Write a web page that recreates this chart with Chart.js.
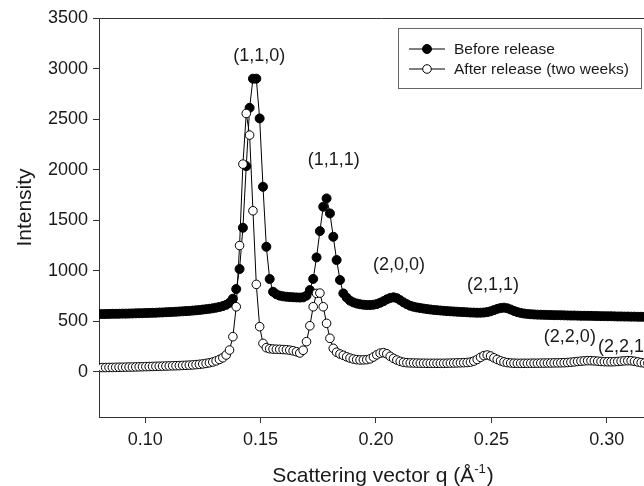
<!DOCTYPE html>
<html>
<head>
<meta charset="utf-8">
<script src="https://cdn.jsdelivr.net/npm/chart.js@4.4.1/dist/chart.umd.min.js"></script>
<style>
  html, body { margin: 0; padding: 0; background: #fff; overflow: hidden; }
  #wrap { width: 644px; height: 486px; overflow: hidden; }
</style>
</head>
<body>
<div id="wrap"><canvas id="chart" width="670" height="486"></canvas></div>
<script>
// scattering vector q (1/Angstrom), one sample per detector step
const q = [
  0.08, 0.08145, 0.0829, 0.08435, 0.0858, 0.08725, 0.0887, 0.09015, 0.0916, 0.09305,
  0.0945, 0.09595, 0.0974, 0.09885, 0.1003, 0.10175, 0.1032, 0.10465, 0.1061, 0.10755,
  0.109, 0.11045, 0.1119, 0.11335, 0.1148, 0.11625, 0.1177, 0.11915, 0.1206, 0.12205,
  0.1235, 0.12495, 0.1264, 0.12785, 0.1293, 0.13075, 0.1322, 0.13365, 0.1351, 0.13655,
  0.138, 0.13945, 0.1409, 0.14235, 0.1438, 0.14525, 0.1467, 0.14815, 0.1496, 0.15105,
  0.1525, 0.15395, 0.1554, 0.15685, 0.1583, 0.15975, 0.1612, 0.16265, 0.1641, 0.16555,
  0.167, 0.16845, 0.1699, 0.17135, 0.1728, 0.17425, 0.1757, 0.17715, 0.1786, 0.18005,
  0.1815, 0.18295, 0.1844, 0.18585, 0.1873, 0.18875, 0.1902, 0.19165, 0.1931, 0.19455,
  0.196, 0.19745, 0.1989, 0.20035, 0.2018, 0.20325, 0.2047, 0.20615, 0.2076, 0.20905,
  0.2105, 0.21195, 0.2134, 0.21485, 0.2163, 0.21775, 0.2192, 0.22065, 0.2221, 0.22355,
  0.225, 0.22645, 0.2279, 0.22935, 0.2308, 0.23225, 0.2337, 0.23515, 0.2366, 0.23805,
  0.2395, 0.24095, 0.2424, 0.24385, 0.2453, 0.24675, 0.2482, 0.24965, 0.2511, 0.25255,
  0.254, 0.25545, 0.2569, 0.25835, 0.2598, 0.26125, 0.2627, 0.26415, 0.2656, 0.26705,
  0.2685, 0.26995, 0.2714, 0.27285, 0.2743, 0.27575, 0.2772, 0.27865, 0.2801, 0.28155,
  0.283, 0.28445, 0.2859, 0.28735, 0.2888, 0.29025, 0.2917, 0.29315, 0.2946, 0.29605,
  0.2975, 0.29895, 0.3004, 0.30185, 0.3033, 0.30475, 0.3062, 0.30765, 0.3091, 0.31055,
  0.312, 0.31345, 0.3149, 0.31635, 0.3178, 0.31925, 0.3207, 0.32215, 0.3236
];

const before = [
  572, 573, 573, 574, 575, 575, 576, 577, 577, 578,
  579, 580, 581, 582, 583, 584, 585, 586, 588, 589,
  591, 592, 594, 596, 598, 600, 602, 604, 607, 610,
  613, 617, 621, 625, 630, 636, 643, 652, 664, 685,
  725, 820, 1018, 1426, 2036, 2612, 2900, 2900, 2507, 1831,
  1238, 919, 793, 768, 755, 748, 744, 741, 739, 737,
  736, 738, 755, 810, 920, 1133, 1393, 1634, 1716, 1568,
  1337, 1107, 909, 777, 735, 705, 688, 677, 670, 665,
  662, 662, 665, 672, 685, 700, 718, 732, 738, 730,
  710, 688, 670, 655, 645, 638, 632, 627, 622, 618,
  614, 611, 608, 605, 602, 600, 598, 596, 594, 592,
  590, 588, 587, 586, 586, 588, 592, 600, 612, 624,
  632, 636, 630, 618, 604, 592, 584, 578, 574, 571,
  569, 567, 566, 565, 564, 563, 562, 562, 561, 560,
  559, 558, 558, 557, 556, 556, 555, 555, 554, 553,
  552, 552, 551, 551, 550, 549, 549, 548, 548, 547,
  547, 546, 546, 545, 545, 544, 544, 543, 543
];

const after = [
  43, 44, 44, 45, 45, 46, 47, 47, 48, 49,
  49, 50, 51, 52, 53, 54, 55, 56, 57, 58,
  59, 60, 61, 62, 63, 65, 66, 68, 70, 73,
  76, 80, 85, 91, 99, 110, 124, 141, 168, 217,
  349, 645, 1250, 2055, 2556, 2342, 1594, 866, 448, 283,
  240, 230, 227, 225, 224, 222, 220, 216, 210, 200,
  188, 215, 300, 457, 645, 777, 780, 645, 481, 333,
  234, 195, 178, 165, 150, 138, 128, 122, 119, 120,
  122, 130, 148, 170, 186, 191, 180, 155, 135, 118,
  105, 96, 92, 90, 89, 88, 87, 87, 86, 86,
  86, 86, 86, 86, 87, 88, 89, 90, 91, 92,
  94, 98, 108, 124, 145, 162, 168, 158, 140, 124,
  110, 100, 93, 89, 87, 86, 86, 86, 86, 87,
  87, 87, 88, 88, 89, 89, 90, 90, 91, 92,
  94, 97, 100, 104, 107, 110, 112, 112, 110, 107,
  104, 102, 101, 101, 102, 104, 107, 110, 112, 111,
  106, 99, 93, 88, 86, 85, 84, 84, 84
];

const seriesNames = ["Before release", "After release (two weeks)"];
const xTicks = [0.10, 0.15, 0.20, 0.25, 0.30];
const yTicks = [0, 500, 1000, 1500, 2000, 2500, 3000, 3500];

// Miller index labels of the peaks
const peakLabels = ["(1,1,0)", "(1,1,1)", "(2,0,0)", "(2,1,1)", "(2,2,0)", "(2,2,1)"];
const peakLabelQ = [0.1494, 0.1817, 0.2100, 0.2507, 0.2840, 0.2962];
const peakLabelI = [3124, 2096, 1058, 860, 341, 250];
const peakLabelAlign = ["center", "center", "center", "center", "center", "left"];

const FONT = "'Liberation Sans', Arial, Helvetica, sans-serif";
const AXIS = "#333";
const TEXT = "#1a1a1a";

// top border of the plot frame
const framePlugin = {
  id: "frame",
  afterDraw(chart) {
    const { ctx, chartArea } = chart;
    ctx.save();
    ctx.strokeStyle = AXIS;
    ctx.lineWidth = 1;
    ctx.beginPath();
    ctx.moveTo(chartArea.left, Math.round(chartArea.top) + 0.5);
    ctx.lineTo(chartArea.right, Math.round(chartArea.top) + 0.5);
    ctx.stroke();
    ctx.restore();
  }
};

const peakLabelPlugin = {
  id: "peakLabels",
  afterDatasetsDraw(chart) {
    const { ctx, scales } = chart;
    ctx.save();
    ctx.font = "18px " + FONT;
    ctx.fillStyle = TEXT;
    ctx.textBaseline = "middle";
    peakLabels.forEach((t, i) => {
      ctx.textAlign = peakLabelAlign[i];
      ctx.fillText(t, scales.x.getPixelForValue(peakLabelQ[i]), scales.y.getPixelForValue(peakLabelI[i]));
    });
    ctx.restore();
  }
};

const legendPlugin = {
  id: "legendBox",
  afterDraw(chart) {
    const { ctx } = chart;
    const box = { x: 398.5, y: 28.5, w: 243, h: 60 };
    ctx.save();
    ctx.fillStyle = "#fff";
    ctx.fillRect(box.x, box.y, box.w, box.h);
    ctx.strokeStyle = "#666";
    ctx.lineWidth = 1;
    ctx.strokeRect(box.x, box.y, box.w, box.h);
    ctx.font = "15.5px " + FONT;
    ctx.textBaseline = "middle";
    ctx.textAlign = "left";
    chart.data.datasets.forEach((ds, i) => {
      const y = 49 + i * 20;
      ctx.strokeStyle = "#000";
      ctx.lineWidth = 1;
      ctx.beginPath();
      ctx.moveTo(409, y);
      ctx.lineTo(445, y);
      ctx.stroke();
      ctx.beginPath();
      ctx.arc(427, y, ds.pointRadius, 0, Math.PI * 2);
      ctx.fillStyle = ds.pointBackgroundColor;
      ctx.fill();
      ctx.stroke();
      ctx.fillStyle = TEXT;
      ctx.fillText(ds.label, 454, y + 1);
    });
    ctx.restore();
  }
};

const axisTitlePlugin = {
  id: "axisTitles",
  afterDraw(chart) {
    const { ctx } = chart;
    ctx.save();
    ctx.fillStyle = TEXT;
    // y title
    ctx.font = "21px " + FONT;
    ctx.textAlign = "center";
    ctx.textBaseline = "alphabetic";
    ctx.translate(30.5, 207.5);
    ctx.rotate(-Math.PI / 2);
    ctx.fillText("Intensity", 0, 0);
    ctx.setTransform(1, 0, 0, 1, 0, 0);
    // x title with superscript
    const main = "Scattering vector q (Å";
    const sup = "-1";
    const tail = ")";
    ctx.font = "21px " + FONT;
    const w1 = ctx.measureText(main).width;
    const w3 = ctx.measureText(tail).width;
    ctx.font = "13px " + FONT;
    const w2 = ctx.measureText(sup).width;
    let x = 383 - (w1 + w2 + w3 + 1) / 2;
    const base = 481.5;
    ctx.textAlign = "left";
    ctx.font = "21px " + FONT;
    ctx.fillText(main, x, base);
    x += w1;
    ctx.font = "13px " + FONT;
    ctx.fillText(sup, x, base - 9);
    x += w2 + 1;
    ctx.font = "21px " + FONT;
    ctx.fillText(tail, x, base);
    ctx.restore();
  }
};

const ctx = document.getElementById("chart").getContext("2d");

new Chart(ctx, {
  type: "line",
  data: {
    datasets: [
      {
        label: seriesNames[0],
        data: q.map((x, i) => ({ x: x, y: before[i] })),
        borderColor: "#000",
        borderWidth: 1,
        pointRadius: 4.5,
        pointBackgroundColor: "#000",
        pointBorderColor: "#000",
        pointBorderWidth: 1,
        tension: 0,
        order: 2
      },
      {
        label: seriesNames[1],
        data: q.map((x, i) => ({ x: x, y: after[i] })),
        borderColor: "#000",
        borderWidth: 1,
        pointRadius: 4.3,
        pointBackgroundColor: "#fff",
        pointBorderColor: "#000",
        pointBorderWidth: 1,
        tension: 0,
        order: 1
      }
    ]
  },
  options: {
    responsive: false,
    animation: false,
    devicePixelRatio: 1,
    layout: { padding: { top: 18, right: 5, left: 0, bottom: 0 } },
    plugins: {
      legend: { display: false },
      tooltip: { enabled: false }
    },
    scales: {
      x: {
        type: "linear",
        min: 0.08,
        max: 0.325,
        afterBuildTicks: (s) => { s.ticks = xTicks.map(v => ({ value: v })); },
        afterFit: (s) => { s.height = 69; },
        grid: { drawOnChartArea: false, drawTicks: true, tickLength: 6, color: AXIS },
        border: { color: AXIS, width: 1 },
        ticks: {
          font: { family: FONT, size: 18 },
          color: TEXT,
          padding: 6,
          maxRotation: 0,
          autoSkip: false,
          callback: (v) => Number(v).toFixed(2)
        }
      },
      y: {
        type: "linear",
        min: -445,
        max: 3500,
        afterBuildTicks: (s) => { s.ticks = yTicks.map(v => ({ value: v })); },
        afterFit: (s) => { s.width = 99; },
        grid: { drawOnChartArea: false, drawTicks: true, tickLength: 6, color: AXIS },
        border: { color: AXIS, width: 1 },
        ticks: {
          font: { family: FONT, size: 18 },
          color: TEXT,
          padding: 5,
          autoSkip: false,
          callback: (v) => String(v)
        }
      }
    }
  },
  plugins: [framePlugin, peakLabelPlugin, legendPlugin, axisTitlePlugin]
});
</script>
</body>
</html>
